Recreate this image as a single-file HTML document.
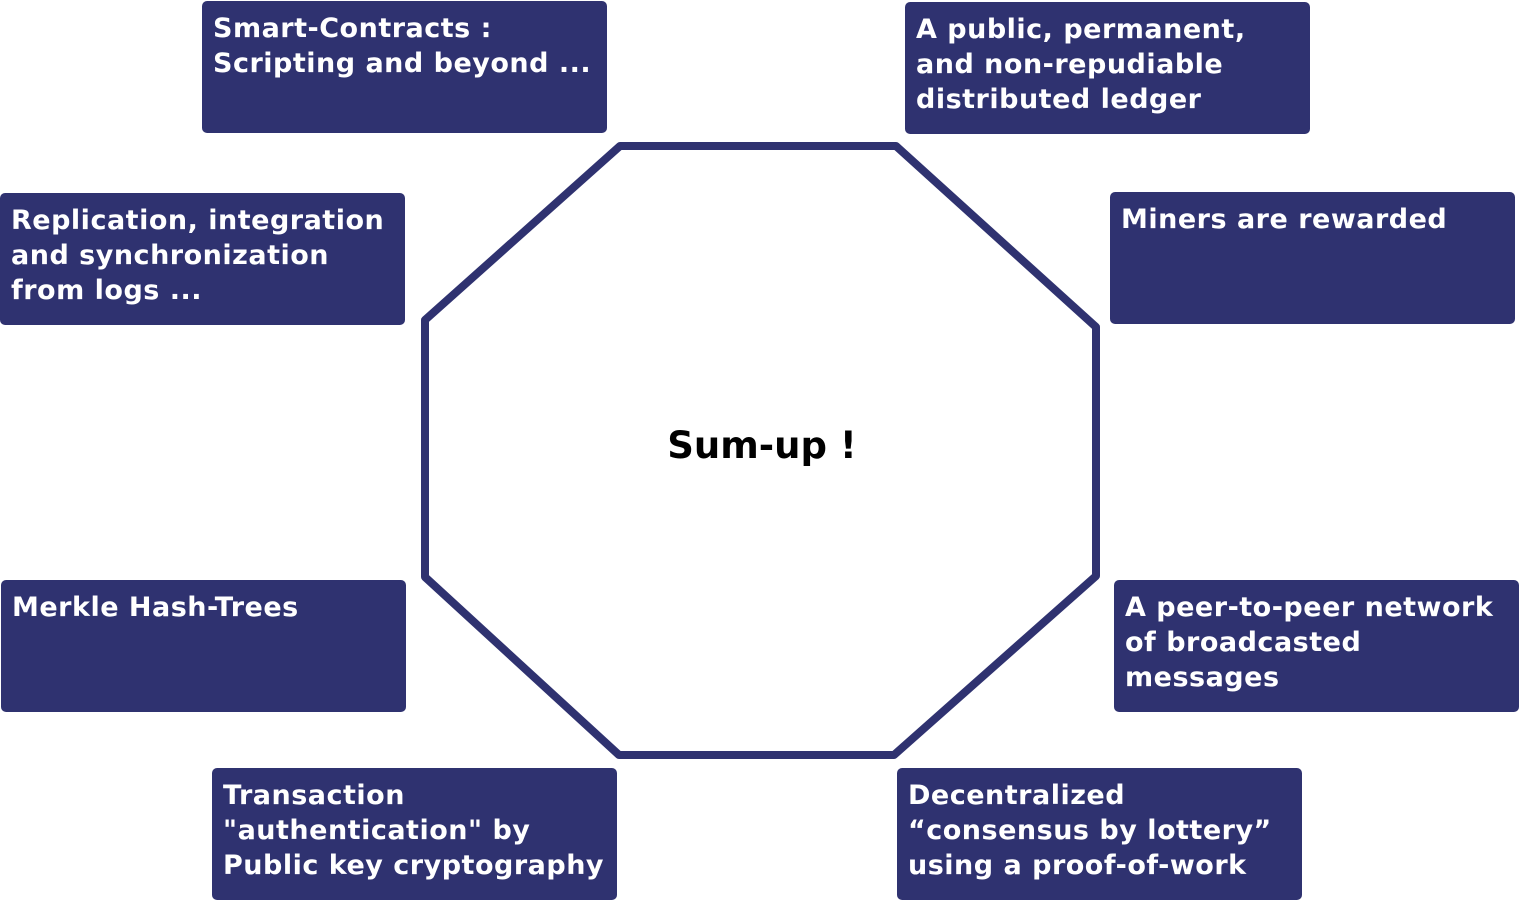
<!DOCTYPE html>
<html><head><meta charset="utf-8"><style>
html,body{margin:0;padding:0;background:#fff;}
body{width:1520px;height:901px;position:relative;overflow:hidden;font-family:"DejaVu Sans","Liberation Sans",sans-serif;}
.b{position:absolute;width:405px;height:132px;background:#2f3270;border-radius:5px;color:#fff;font-weight:bold;font-size:27px;line-height:35px;box-sizing:border-box;padding:10px 0 0 11px;white-space:nowrap;letter-spacing:0.5px;}
.c{position:absolute;left:0;top:422px;width:1524px;text-align:center;font-weight:bold;font-size:37px;line-height:48px;color:#000;}
</style></head><body>
<svg width="1520" height="901" style="position:absolute;left:0;top:0">
<polygon points="620,146 896,146 1096,327 1096,576 894,755 619,755 425,577 425,320" fill="#fff" stroke="#2f3270" stroke-width="8" stroke-linejoin="round"/>
</svg>
<div class="c">Sum-up !</div>
<div class="b" style="left:202px;top:1px">Smart-Contracts :<br>Scripting and beyond ...</div>
<div class="b" style="left:905px;top:2px">A public, permanent,<br>and non-repudiable<br>distributed ledger</div>
<div class="b" style="left:0px;top:193px">Replication, integration<br>and synchronization<br>from logs ...</div>
<div class="b" style="left:1110px;top:192px">Miners are rewarded</div>
<div class="b" style="left:1px;top:580px">Merkle Hash-Trees</div>
<div class="b" style="left:1114px;top:580px">A peer-to-peer network<br>of broadcasted<br>messages</div>
<div class="b" style="left:212px;top:768px">Transaction<br>"authentication" by<br>Public key cryptography</div>
<div class="b" style="left:897px;top:768px">Decentralized<br>“consensus by lottery”<br>using a proof-of-work</div>
</body></html>
